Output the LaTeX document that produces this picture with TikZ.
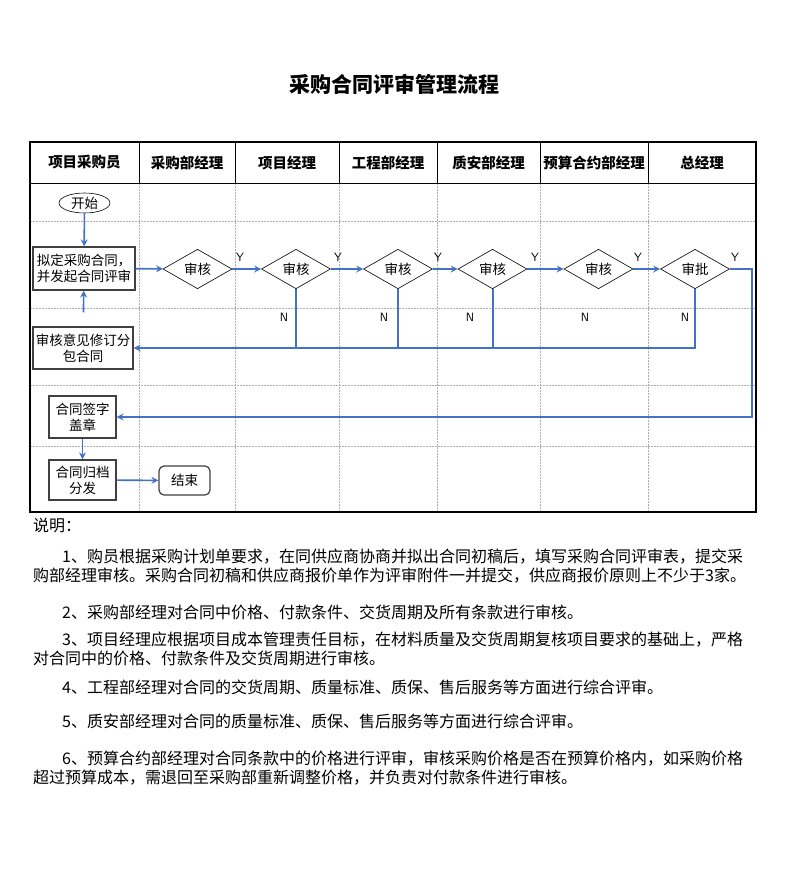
\documentclass[tikz,border=0pt]{standalone}
\usepackage{fontspec}
\setmainfont{Noto Sans CJK SC}
\usetikzlibrary{shapes.geometric,arrows.meta}
\definecolor{flowblue}{RGB}{68,114,196}
\definecolor{gridgray}{RGB}{175,175,175}
\tikzset{
  boxnode/.style={draw=black!75, line width=1.3pt, fill=white, inner sep=0pt, align=center, font=\fontsize{13.5}{16}\selectfont},
  decide/.style={diamond, draw=black, line width=0.6pt, fill=white, inner sep=0pt, minimum width=69pt, minimum height=38pt, font=\fontsize{13.5}{16}\selectfont},
  hdr/.style={font=\fontsize{14.5}{17}\selectfont\bfseries},
  flow/.style={draw=flowblue, line width=1.6pt, -{Stealth[length=7pt,width=7pt,inset=2.5pt]}},
  flowline/.style={draw=flowblue, line width=1.6pt},
  gridline/.style={draw=gridgray, line width=0.5pt, dash pattern=on 2pt off 1pt},
  lbl/.style={font=\fontsize{12}{14}\selectfont\sffamily, inner sep=0pt},
  body/.style={anchor=west, inner sep=0pt, font=\fontsize{16}{18}\selectfont},
}
\begin{document}
\begin{tikzpicture}[x=1pt,y=-1pt]
\path[use as bounding box, fill=white] (0,0) rectangle (786,879);
% title
\node[font=\fontsize{21}{24}\selectfont\bfseries] (title) at (394,84) {采购合同评审管理流程};
% grid
\foreach \yy in {221,308,385,446} {\draw[gridline] (30,\yy) -- (756,\yy);}
\foreach \xx in {139,235,339,437,540,648} {\draw[gridline] (\xx,183) -- (\xx,512);}
\foreach \xx in {139,235,339,437,540,648} {\draw[line width=0.6pt] (\xx,142) -- (\xx,183);}
\draw[line width=0.6pt] (30,183) -- (756,183);
\draw[line width=2.2pt] (30,142) rectangle (756,512);
% headers
\node[hdr] (h1) at (84.5,162.5) {项目采购员};
\node[hdr] (h2) at (187,162.5) {采购部经理};
\node[hdr] (h3) at (287,162.5) {项目经理};
\node[hdr] (h4) at (388,162.5) {工程部经理};
\node[hdr] (h5) at (488.5,162.5) {质安部经理};
\node[hdr] (h6) at (594,162.5) {预算合约部经理};
\node[hdr] (h7) at (702,162.5) {总经理};
% nodes
\node[ellipse, draw=black, line width=0.6pt, fill=white, minimum width=51pt, minimum height=20pt, inner sep=0pt, font=\fontsize{13.5}{16}\selectfont] (start) at (84.5,203) {开始};
\node[boxnode, minimum width=102pt, minimum height=43pt] (draft) at (84,268.5) {拟定采购合同，\\并发起合同评审};
\node[decide] (d1) at (197.5,269) {审核};
\node[decide] (d2) at (296,269) {审核};
\node[decide] (d3) at (398,269) {审核};
\node[decide] (d4) at (492.5,269) {审核};
\node[decide] (d5) at (598.5,269) {审核};
\node[decide] (d6) at (695,269) {审批};
\node[boxnode, minimum width=100pt, minimum height=42pt] (revise) at (83,348) {审核意见修订分\\包合同};
\node[boxnode, minimum width=67pt, minimum height=42pt] (sign) at (82.5,417) {合同签字\\盖章};
\node[boxnode, minimum width=67pt, minimum height=40pt] (archive) at (82.5,480) {合同归档\\分发};
\node[draw=black!75, line width=1.2pt, rounded corners=5pt, fill=white, minimum width=51pt, minimum height=29pt, inner sep=0pt, font=\fontsize{13.5}{16}\selectfont] (end) at (184.5,480.5) {结束};
% connectors
\draw[flow] (start) -- (draft);
\draw[flow, shorten <=14pt] (revise) -- (draft);
\draw[flow] (draft) -- (d1);
\draw[flow] (d1) -- (d2);
\draw[flow] (d2) -- (d3);
\draw[flow] (d3) -- (d4);
\draw[flow] (d4) -- (d5);
\draw[flow] (d5) -- (d6);
\coordinate (rt) at (752,269);
\draw[flow] (d6.east) -- (rt) |- (sign.east);
\draw[flowline, line width=2pt] (d2.south) -- (d2.south |- revise.east);
\draw[flowline, line width=2pt] (d3.south) -- (d3.south |- revise.east);
\draw[flowline, line width=2pt] (d4.south) -- (d4.south |- revise.east);
\draw[flow, line width=2pt] (d6.south) |- (revise.east);
\draw[flow] (sign) -- (archive);
\draw[flow] (archive) -- (end);
% Y / N labels
\node[lbl] (y1) at (240,257) {Y};
\node[lbl] (y2) at (338,257) {Y};
\node[lbl] (y3) at (438,257) {Y};
\node[lbl] (y4) at (535,257) {Y};
\node[lbl] (y5) at (638,257) {Y};
\node[lbl] (y6) at (735,257) {Y};
\node[lbl] (n1) at (284,317) {N};
\node[lbl] (n2) at (384,317) {N};
\node[lbl] (n3) at (470,317) {N};
\node[lbl] (n4) at (585,317) {N};
\node[lbl] (n5) at (685,317) {N};
% notes
\node[body] (t0) at (33,525) {说明：};
\node[body] (t1a) at (62,557) {1、购员根据采购计划单要求，在同供应商协商并拟出合同初稿后，填写采购合同评审表，提交采};
\node[body] (t1b) at (33,576) {购部经理审核。采购合同初稿和供应商报价单作为评审附件一并提交，供应商报价原则上不少于3家。};
\node[body] (t2) at (62,612) {2、采购部经理对合同中价格、付款条件、交货周期及所有条款进行审核。};
\node[body] (t3a) at (62,640) {3、项目经理应根据项目成本管理责任目标，在材料质量及交货周期复核项目要求的基础上，严格};
\node[body] (t3b) at (33,658) {对合同中的价格、付款条件及交货周期进行审核。};
\node[body] (t4) at (62,687) {4、工程部经理对合同的交货周期、质量标准、质保、售后服务等方面进行综合评审。};
\node[body] (t5) at (62,721) {5、质安部经理对合同的质量标准、质保、售后服务等方面进行综合评审。};
\node[body] (t6a) at (62,759) {6、预算合约部经理对合同条款中的价格进行评审，审核采购价格是否在预算价格内，如采购价格};
\node[body] (t6b) at (33,778) {超过预算成本，需退回至采购部重新调整价格，并负责对付款条件进行审核。};
\end{tikzpicture}
\end{document}
